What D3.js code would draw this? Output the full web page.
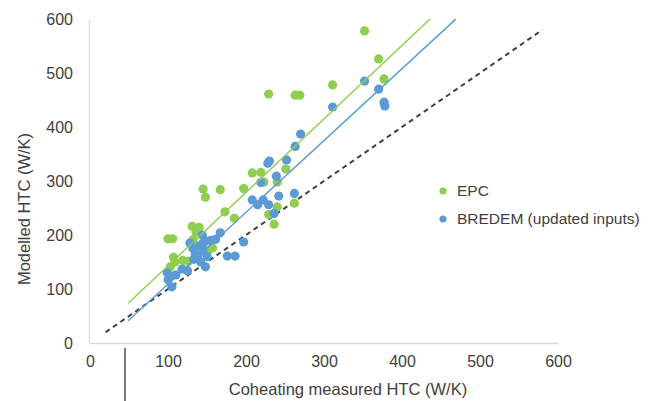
<!DOCTYPE html>
<html>
<head>
<meta charset="utf-8">
<script src="https://cdn.jsdelivr.net/npm/d3@7"></script>
<style>
  body { margin: 0; background: #fff; }
  text { font-family: "Liberation Sans", Arial, sans-serif; fill: #404040; }
</style>
</head>
<body>
<div id="htc-chart"></div>
<script>
/* data: measured (x) vs modelled (y) HTC, W/K */
var epcX = [352, 370, 377, 311, 229, 263, 269, 251, 208, 219, 223, 240, 145, 167, 197, 148, 262, 240, 229, 236,
            173, 185, 100, 106, 131, 140, 136, 152, 107, 109, 103, 119, 126, 157, 132]
var epcY = [578, 526, 489, 478, 461, 459, 459, 322, 315, 316, 298, 298, 285, 284, 286, 270, 259, 252, 238, 220,
            243, 231, 193, 193, 216, 214, 205, 172, 159, 150, 141, 153, 151, 176, 191]

var bredemX = [352, 370, 377, 378, 311, 270, 263, 228, 230, 252, 239, 219, 262, 242, 208, 222, 229, 236, 215,
               167, 197, 161, 145, 176, 186, 148, 99, 104, 110, 118, 125, 105, 100,
               128, 132, 135, 140, 138, 145, 150, 133, 155, 142, 148, 144]
var bredemY = [485, 470, 446, 439, 437, 387, 364, 333, 337, 339, 309, 297, 277, 272, 265, 265, 256, 240, 256,
               204, 187, 192, 185, 161, 161, 141, 130, 124, 126, 137, 134, 104, 117,
               185, 175, 165, 180, 160, 170, 160, 155, 190, 150, 189, 200]

/* linear trend lines (slope, intercept, x range) */
var epcTrend = [1.36, 7, 49, 436]
var bredemTrend = [1.33, -24, 49, 469]
var oneToOne = [20, 580]

var xTicks = [0, 100, 200, 300, 400, 500, 600]
var yTicks = [0, 100, 200, 300, 400, 500, 600]

var seriesNames = ["EPC", "BREDEM (updated inputs)"]
var colors = {
  "EPC": "#8fce4f",
  "BREDEM (updated inputs)": "#5b9bd5"
}
    axisColor = "#d9d9d9"

var layout = {
  width: 656,
  height: 401,
  left: 90,
  right: 558,
  top: 19,
  bottom: 343,
  dotR: 4.6,
  legendX: 443,
  legendY: 191,
  legendGap: 28
}

var x = d3.scaleLinear().domain([0, 600]).range([layout.left, layout.right])
    y = d3.scaleLinear().domain([0, 600]).range([layout.bottom, layout.top])

var svg = d3.select("#htc-chart")
  .append("svg")
  .attr("width", layout.width)
  .attr("height", layout.height)

/* axes: plain grey lines, no tick marks */
var xAxis = svg.append("g")
  .attr("transform", "translate(0," + layout.bottom + ")")
  .call(d3.axisBottom(x).tickValues(xTicks).tickSize(0).tickPadding(13))
xAxis.select(".domain").attr("stroke", axisColor).attr("stroke-width", 1.3)
xAxis.selectAll("text").style("font-size", "16px").style("fill", "#404040").attr("font-family", null)

var yAxis = svg.append("g")
  .attr("transform", "translate(" + (layout.left - 1) + ",0)")
  .call(d3.axisLeft(y).tickValues(yTicks).tickSize(0).tickPadding(16))
yAxis.select(".domain").attr("stroke", axisColor).attr("stroke-width", 1.3)
yAxis.selectAll("text").style("font-size", "16px").style("fill", "#404040").attr("font-family", null)

svg.append("text")
  .text("Coheating measured HTC (W/K)")
  .attr("text-anchor", "middle")
  .attr("x", 348)
  .attr("y", 395)
  .style("font-size", "16.5px")

svg.append("text")
  .text("Modelled HTC (W/K)")
  .attr("text-anchor", "middle")
  .attr("transform", "translate(30,209) rotate(-90)")
  .style("font-size", "16.5px")

/* stray mark under the axis in the original */
svg.append("line")
  .attr("x1", 125).attr("x2", 125)
  .attr("y1", 348).attr("y2", 401)
  .style("stroke", "#222")
  .style("stroke-width", 1.2)

/* 1:1 reference line */
svg.append("line")
  .attr("x1", x(oneToOne[0])).attr("y1", y(oneToOne[0]))
  .attr("x2", x(oneToOne[1])).attr("y2", y(oneToOne[1]))
  .style("stroke", "#404040")
  .style("stroke-width", 2)
  .style("stroke-dasharray", "5,4")

function drawTrend(t, color) {
  svg.append("line")
    .attr("x1", x(t[2])).attr("y1", y(t[0] * t[2] + t[1]))
    .attr("x2", x(t[3])).attr("y2", y(t[0] * t[3] + t[1]))
    .style("stroke", color)
    .style("stroke-width", 1.4)
}

function drawDots(xs, ys, color) {
  var pts = xs.map(function(d, i) { return [d, ys[i]] })
  svg.append("g").selectAll("circle").data(pts).enter()
    .append("circle")
    .attr("cx", function(d) { return x(d[0]) })
    .attr("cy", function(d) { return y(d[1]) })
    .attr("r", layout.dotR)
    .style("fill", color)
}

drawDots(epcX, epcY, colors["EPC"])
drawDots(bredemX, bredemY, colors["BREDEM (updated inputs)"])
drawTrend(epcTrend, colors["EPC"])
drawTrend(bredemTrend, colors["BREDEM (updated inputs)"])

/* legend */
var legend = svg.selectAll(".legendItem").data(seriesNames).enter()
  .append("g")
  .attr("class", "legendItem")
  .attr("transform", function(d, i) { return "translate(" + layout.legendX + "," + (layout.legendY + i * layout.legendGap) + ")" })

legend.append("circle")
  .attr("r", 3.6)
  .style("fill", function(d) { return colors[d] })

legend.append("text")
  .text(function(d) { return d })
  .attr("x", 14)
  .attr("dy", "0.35em")
  .style("font-size", "15.5px")
</script>
</body>
</html>
